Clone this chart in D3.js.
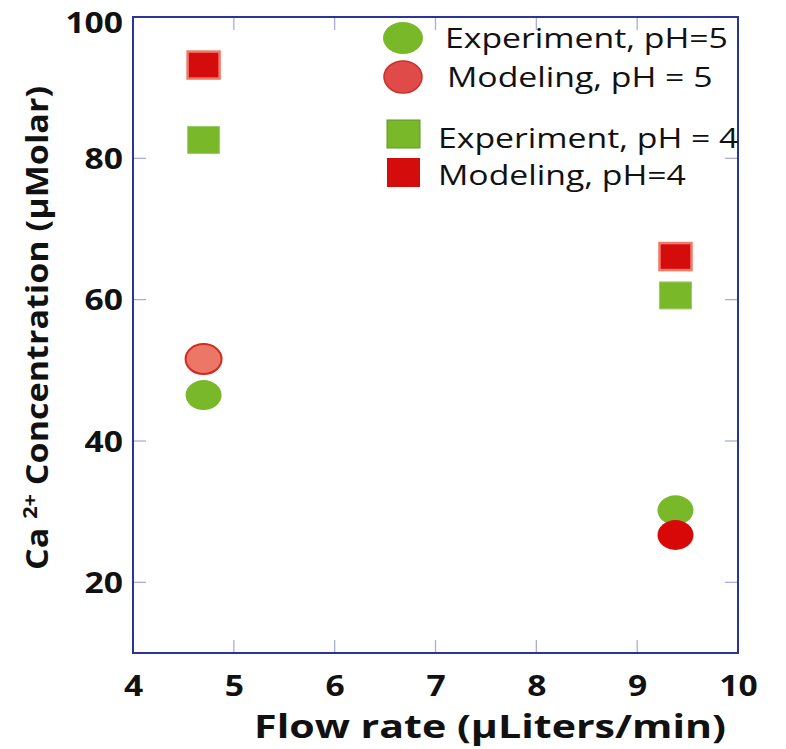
<!DOCTYPE html>
<html><head><meta charset="utf-8">
<script src="https://cdn.jsdelivr.net/npm/d3@7"></script>
<style>body{margin:0;background:#fff}svg{display:block}</style>
</head><body>
<svg id="c" width="786" height="749"></svg>
<script>
// Data
const flowRates = [4.7, 9.38];
const expPH5 = [46.5, 30.2];
const modPH5 = [51.6, 26.7];
const expPH4 = [82.6, 60.6];
const modPH4 = [93.2, 66.1];
const xTicks = [4, 5, 6, 7, 8, 9, 10];
const yTicks = [20, 40, 60, 80, 100];
const legendLabels = ["Experiment, pH=5", "Modeling, pH = 5", "Experiment, pH = 4", "Modeling, pH=4"];

const svg = d3.select("#c");
const L = 133, R = 738, T = 17, B = 653;
const x = d3.scaleLinear().domain([4, 10]).range([L, R]);
const y = d3.scaleLinear().domain([10, 100]).range([B, T]);
const FONT = "'Open Sans', 'DejaVu Sans', sans-serif";
const GREEN = "#79b929", RED = "#d40c0c";
const SX = 1.2; // horizontal glyph stretch seen in the reference

// inner ticks
const tickCol = "#a9aedb";
const g = svg.append("g");
xTicks.slice(1, -1).forEach(t => {
  g.append("line").attr("x1", x(t)).attr("x2", x(t)).attr("y1", B).attr("y2", B - 13).attr("stroke", tickCol).attr("stroke-width", 1.3);
  g.append("line").attr("x1", x(t)).attr("x2", x(t)).attr("y1", T).attr("y2", T + 13).attr("stroke", tickCol).attr("stroke-width", 1.3);
});
yTicks.slice(0, -1).forEach(t => {
  g.append("line").attr("x1", L).attr("x2", L + 13).attr("y1", y(t)).attr("y2", y(t)).attr("stroke", tickCol).attr("stroke-width", 1.3);
  g.append("line").attr("x1", R).attr("x2", R - 13).attr("y1", y(t)).attr("y2", y(t)).attr("stroke", tickCol).attr("stroke-width", 1.3);
});

// frame
svg.append("rect").attr("x", L).attr("y", T).attr("width", R - L).attr("height", B - T)
  .attr("fill", "none").attr("stroke", "#2b3597").attr("stroke-width", 2);

// axes tick labels
const xAxis = d3.axisBottom(x).tickValues(xTicks).tickSize(0).tickPadding(0).tickFormat(d3.format("d"));
const xa = svg.append("g").attr("transform", `translate(0,${B})`).call(xAxis);
xa.select(".domain").remove();
xa.selectAll("text").attr("dy", 0).attr("y", 43).attr("font-family", FONT).attr("font-weight", 700)
  .attr("font-size", 28).attr("fill", "#111").attr("transform", `scale(${SX},1)`);
const yAxis = d3.axisLeft(y).tickValues(yTicks).tickSize(0).tickPadding(0).tickFormat(d3.format("d"));
const ya = svg.append("g").attr("transform", `translate(${L - 10},0)`).call(yAxis);
ya.select(".domain").remove();
ya.selectAll("text").attr("dy", "0.36em").attr("x", 0)
  .attr("y", d => d === d3.max(yTicks) ? 5 : 0)
  .attr("font-family", FONT).attr("font-weight", 700)
  .attr("font-size", 28).attr("fill", "#111").attr("transform", `scale(${SX},1)`);

// helper: stretch text along its direction to a target length
function fit(textSel, target) {
  const w = textSel.node().getComputedTextLength();
  textSel.attr("transform", `scale(${target / w},1)`);
  return target / w;
}

// axis titles
const xtg = svg.append("g").attr("transform", "translate(490,738)");
const xt = xtg.append("text").attr("text-anchor", "middle")
  .attr("font-family", FONT).attr("font-weight", 700).attr("font-size", 33).attr("fill", "#111")
  .text("Flow rate (μLiters/min)");
fit(xt, 472);

const ytg = svg.append("g").attr("transform", "translate(48,328) rotate(-90)");
const yt = ytg.append("text").attr("text-anchor", "middle")
  .attr("font-family", FONT).attr("font-weight", 700).attr("font-size", 30).attr("fill", "#111");
yt.append("tspan").text("Ca ");
yt.append("tspan").attr("font-size", 19).attr("dy", -11).text("2+");
yt.append("tspan").attr("dy", 11).text("  Concentration (μMolar)");
fit(yt, 484);

// marks
const sqW = 32, sqH = 27, rx = 18, ry = 15;
svg.selectAll(".e4").data(expPH4).join("rect")
  .attr("x", (d, i) => x(flowRates[i]) - sqW / 2).attr("y", d => y(d) - sqH / 2)
  .attr("width", sqW).attr("height", sqH).attr("fill", GREEN).attr("stroke", "#9ccc6a").attr("stroke-width", 1);
svg.selectAll(".m4").data(modPH4).join("rect")
  .attr("x", (d, i) => x(flowRates[i]) - sqW / 2).attr("y", d => y(d) - sqH / 2)
  .attr("width", sqW).attr("height", sqH).attr("fill", RED).attr("stroke", "#f07a68").attr("stroke-width", 2.5);
svg.selectAll(".e5").data(expPH5).join("ellipse")
  .attr("cx", (d, i) => x(flowRates[i])).attr("cy", d => y(d))
  .attr("rx", rx).attr("ry", ry).attr("fill", GREEN);
svg.selectAll(".m5").data(modPH5).join("ellipse")
  .attr("cx", (d, i) => x(flowRates[i])).attr("cy", d => y(d))
  .attr("rx", rx).attr("ry", ry)
  .attr("fill", (d, i) => i === 0 ? "#ec7766" : "#d80808")
  .attr("stroke", (d, i) => i === 0 ? "#d22a1e" : "none").attr("stroke-width", 2);

// legend
const lg = svg.append("g");
lg.append("ellipse").attr("cx", 403).attr("cy", 38).attr("rx", 20).attr("ry", 16).attr("fill", GREEN);
lg.append("ellipse").attr("cx", 403).attr("cy", 77).attr("rx", 19).attr("ry", 16).attr("fill", "#e04a48").attr("stroke", "#c83028").attr("stroke-width", 1.5);
lg.append("rect").attr("x", 387).attr("y", 120).attr("width", 33).attr("height", 28).attr("fill", GREEN).attr("stroke", "#5f9a20").attr("stroke-width", 1);
lg.append("rect").attr("x", 387).attr("y", 158).attr("width", 33).attr("height", 29).attr("fill", RED);
const lx = [445, 447, 438, 438], ly = [48, 87, 148, 185];
let legSX = null;
legendLabels.forEach((t, i) => {
  const gg = lg.append("g").attr("transform", `translate(${lx[i]},${ly[i]})`);
  const tx = gg.append("text").attr("font-family", FONT).attr("font-size", 28).attr("fill", "#111").text(t);
  if (legSX === null) legSX = fit(tx, 283);
  else tx.attr("transform", `scale(${legSX},1)`);
});
</script>
</body></html>
